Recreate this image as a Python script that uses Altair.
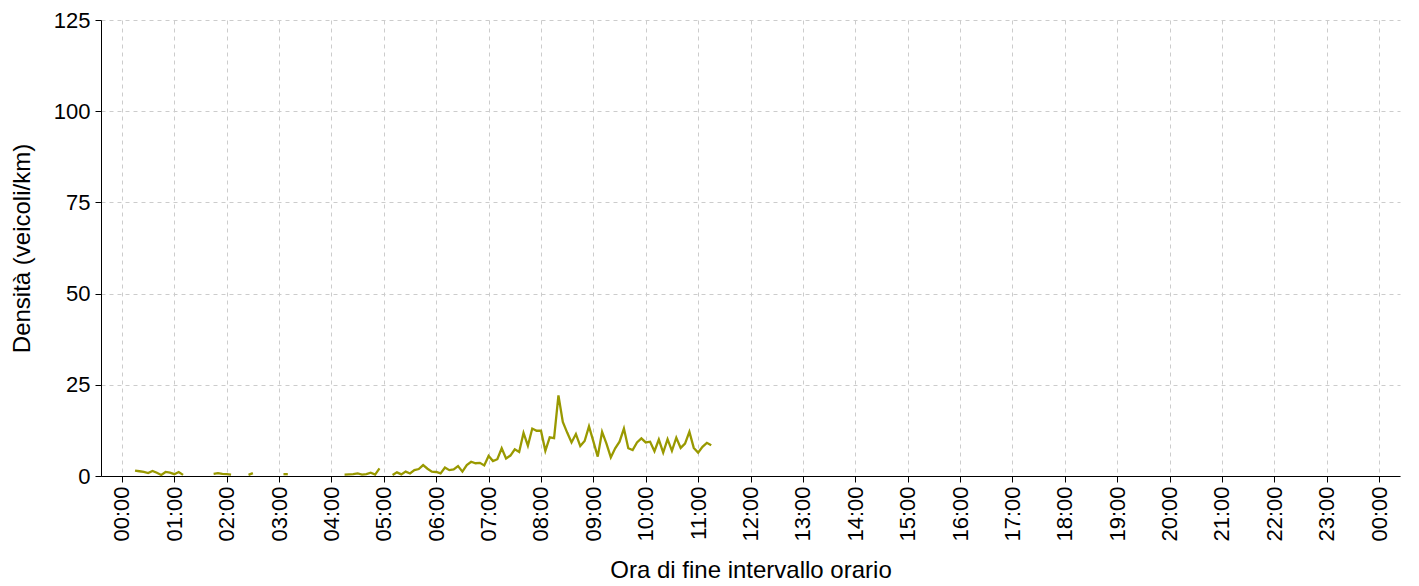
import altair as alt
import pandas as pd

# Ora di fine intervallo (HH:MM) dei punti validi, e densità (veicoli/km)
times = [
    "00:15", "00:20", "00:25", "00:30", "00:35", "00:40", "00:45", "00:50", "00:55", "01:00", "01:05", "01:10",
    "01:45", "01:50", "01:55", "02:00", "02:05",
    "02:25", "02:30",
    "03:05", "03:10",
    "04:15", "04:20", "04:25", "04:30", "04:35", "04:40", "04:45", "04:50", "04:55",
    "05:10", "05:15", "05:20", "05:25", "05:30", "05:35", "05:40", "05:45", "05:50", "05:55",
    "06:00", "06:05", "06:10", "06:15", "06:20", "06:25", "06:30", "06:35", "06:40", "06:45", "06:50", "06:55",
    "07:00", "07:05", "07:10", "07:15", "07:20", "07:25", "07:30", "07:35", "07:40", "07:45", "07:50", "07:55",
    "08:00", "08:05", "08:10", "08:15", "08:20", "08:25", "08:30", "08:35", "08:40", "08:45", "08:50", "08:55",
    "09:00", "09:05", "09:10", "09:15", "09:20", "09:25", "09:30", "09:35", "09:40", "09:45", "09:50", "09:55",
    "10:00", "10:05", "10:10", "10:15", "10:20", "10:25", "10:30", "10:35", "10:40", "10:45", "10:50", "10:55",
    "11:00", "11:05", "11:10", "11:15",
]
density = [
    1.5, 1.3, 1.1, 0.8, 1.4, 0.9, 0.3, 1.1, 0.9, 0.5, 1.1, 0.3,
    0.6, 0.8, 0.6, 0.5, 0.4,
    0.3, 0.8,
    0.5, 0.5,
    0.4, 0.45, 0.5, 0.7, 0.4, 0.5, 0.9, 0.4, 2.1,
    0.3, 1.0, 0.45, 1.2, 0.7, 1.6, 1.9, 3.0, 2.0, 1.2,
    1.1, 0.7, 2.3, 1.6, 1.8, 2.7, 1.2, 3.0, 3.9, 3.5, 3.6, 2.9,
    5.5, 4.1, 4.6, 7.6, 4.8, 5.6, 7.3, 6.6, 11.8, 8.3, 13.0, 12.4,
    12.4, 6.9, 10.6, 10.4, 22.1, 14.8, 11.9, 9.2, 11.5, 8.2, 9.6, 13.6,
    9.5, 5.3, 12.1, 8.9, 5.1, 7.6, 9.4, 13.0, 7.6, 7.1, 9.2, 10.3,
    9.2, 9.4, 6.8, 10.0, 6.4, 10.1, 6.9, 10.5, 7.7, 8.9, 12.1, 7.7,
    6.4, 8.0, 9.1, 8.4,
]

hour_ticks = [0, 60, 120, 180, 240, 300, 360, 420, 480, 540, 600, 660, 720,
              780, 840, 900, 960, 1020, 1080, 1140, 1200, 1260, 1320, 1380, 1440]
y_ticks = [0, 25, 50, 75, 100, 125]


def to_min(s):
    h, m = s.split(":")
    return int(h) * 60 + int(m)


mins = [to_min(t) for t in times]
seg = []
s = 0
for i, m in enumerate(mins):
    if i > 0 and m - mins[i - 1] > 5:
        s += 1
    seg.append(s)

df = pd.DataFrame({"minuti": mins, "densita": density, "seg": seg})

FONT = "Liberation Sans"

chart = alt.Chart(df).mark_line(color="#999900", strokeWidth=2.3).encode(
    x=alt.X(
        "minuti:Q",
        scale=alt.Scale(domain=[-24, 1464], nice=False, zero=False),
        axis=alt.Axis(
            values=hour_ticks,
            labelExpr="utcFormat(datum.value * 60000, '%H:%M')",
            title="Ora di fine intervallo orario",
            labelAngle=270,
            labelAlign="right",
            labelBaseline="middle",
            labelPadding=4,
            titlePadding=17,
        ),
    ),
    y=alt.Y(
        "densita:Q",
        scale=alt.Scale(domain=[0, 125], nice=False),
        axis=alt.Axis(values=y_ticks, title="Densità (veicoli/km)", titlePadding=19, labelPadding=5),
    ),
    detail="seg:N",
).properties(
    width=1299,
    height=456,
    padding={"left": 93, "top": 12, "right": 10, "bottom": 110},
    autosize="none",
).configure_view(stroke=None).configure_axis(
    grid=True,
    gridColor="#cccccc",
    gridDash=[4, 4],
    gridWidth=1,
    domainColor="black",
    domainWidth=1,
    tickColor="black",
    tickSize=6,
    labelFont=FONT,
    labelFontSize=22,
    labelColor="black",
    titleFont=FONT,
    titleFontSize=24,
    titleFontWeight="normal",
    titleColor="black",
    labelFlush=False,
    labelOverlap=False,
)

chart.save("out.html", embed_options={"renderer": "svg", "actions": False})
